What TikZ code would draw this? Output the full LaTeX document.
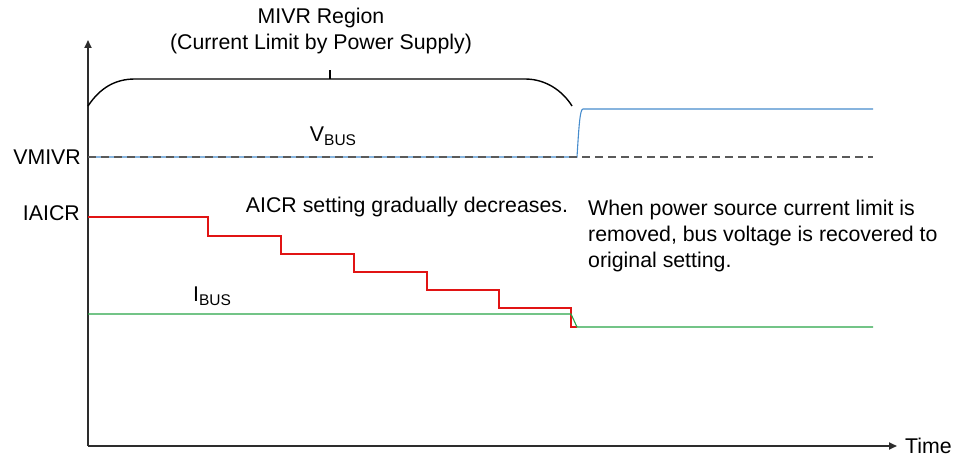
\documentclass[tikz,border=0pt]{standalone}
\usepackage{fontspec}
\setmainfont{Liberation Sans}
\usetikzlibrary{arrows.meta}
\definecolor{vbusblue}{RGB}{70,140,205}
\definecolor{aicrred}{RGB}{225,20,20}
\definecolor{ibusgreen}{RGB}{40,165,70}
\definecolor{refgray}{RGB}{90,90,90}
\definecolor{axisgray}{RGB}{45,45,45}
\newcommand{\sub}[1]{\raisebox{-0.35ex}{\fontsize{15.5}{15.5}\selectfont #1}}
\begin{document}
\begin{tikzpicture}[x=1pt,y=-1pt,
  lbl/.style={font=\fontsize{21.3}{26}\selectfont, inner sep=0pt},
  axisline/.style={axisgray, line width=1.7pt, -{Triangle[length=8pt,width=7pt]}},
  refline/.style={refgray, line width=1.1pt, dash pattern=on 8pt off 5pt},
  wave/.style={line width=1.1pt},
  bracket/.style={line width=1.4pt}]
\useasboundingbox (0,0) rectangle (954,457);

% axes
\coordinate (origin) at (88,446);
\coordinate (ytip) at (88,40);
\coordinate (xtip) at (897,446);
\draw[axisline] (origin) -- (ytip);
\draw[axisline] (origin) -- (xtip);
\node[lbl, anchor=base west] (time) at (905,453) {Time};

% MIVR reference level
\coordinate (vm0) at (88,157);
\coordinate (vm1) at (873,157);
\node[lbl, anchor=east] (vmivr) at (81,157) {VMIVR};
\node[lbl, anchor=east] (iaicr) at (80,213) {IAICR};

% bus voltage: held at MIVR, then recovers
\coordinate (vb1) at (577,157);
\coordinate (vb2) at (583,109);
\coordinate (vb3) at (873,109);
\draw[wave, vbusblue] (vm0) -- (vb1) .. controls (579,125) and (580,109) .. (vb2) -- (vb3);
\draw[refline] (vm0) -- (vm1);
\node[lbl] (vbus) at (333,136) {V\sub{BUS}};

% AICR setting steps down
\draw[wave, aicrred] (88,217) -- (208,217) -- (208,236) -- (281,236) -- (281,254)
  -- (354,254) -- (354,272) -- (427,272) -- (427,290) -- (499,290) -- (499,308)
  -- (571,308) -- (571,327) -- (577,327);
\node[lbl] (aicr) at (407,207) {AICR setting gradually decreases.};

% bus current
\draw[wave, ibusgreen] (88,314) -- (571,314) -- (577,327) -- (873,327);
\node[lbl] (ibus) at (212,296) {I\sub{BUS}};

% note on recovery
\node[lbl, anchor=north west, align=left] (note) at (588,200)
  {When power source current limit is\\removed, bus voltage is recovered to\\original setting.};

% bracket over the MIVR region
\coordinate (bl) at (88,106);
\coordinate (br) at (572,106);
\coordinate (bm) at (330,79);
\coordinate (bt) at (330,70);
\draw[bracket] (bl) .. controls (100,88) and (115,79) .. (135,79) -- (525,79)
  .. controls (545,79) and (562,90) .. (br);
\draw[bracket] (bm) -- (bt);
\node[lbl, align=center] (region) at (321,31) {MIVR Region\\(Current Limit by Power Supply)};
\end{tikzpicture}
\end{document}
